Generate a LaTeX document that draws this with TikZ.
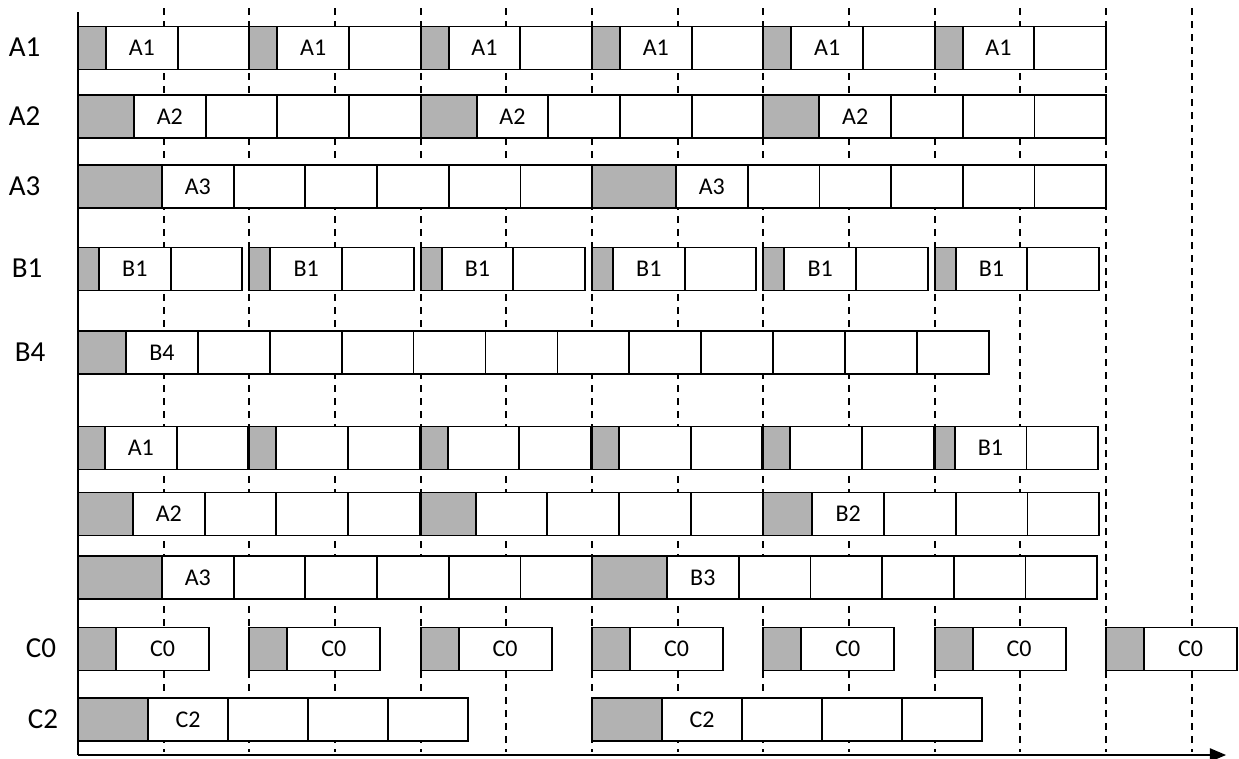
\documentclass[tikz,border=0pt]{standalone}
\usepackage{fontspec}
\setmainfont{Carlito}
\usetikzlibrary{positioning,arrows}
\tikzset{
  hdr/.style={draw=black, fill=black!30, line width=1.7pt, minimum height=43pt,
    inner sep=0pt, outer sep=0pt, anchor=west},
  cell/.style={draw=black, fill=white, line width=1.7pt, minimum height=43pt,
    inner sep=0pt, outer sep=0pt, font=\fontsize{24}{24}\selectfont},
  tick/.style={line width=2pt, dash pattern=on 7pt off 6pt},
  axis/.style={line width=2.8pt},
  tag/.style={font=\fontsize{29}{29}\selectfont}
}
% one frame: name, x, y, gray width, cells, cell width, label of first cell
\newcommand{\grp}[7]{%
  \node[hdr, minimum width=#4] (#1-0) at (#2,#3) {};
  \foreach \k [count=\j from 0] in {1,...,#5}
    \node[cell, minimum width=#6, right=0pt of #1-\j] (#1-\k) {\ifnum\k=1 #7\fi};
}

\begin{document}
\begin{tikzpicture}[x=1pt,y=-1pt]
    \useasboundingbox (0,0) rectangle (1239,758);

    % time grid
    \foreach \k in {1,...,13} {
      \coordinate (d\k) at (78+85.667*\k,8);
      \coordinate (e\k) at (78+85.667*\k,752);
      \draw[tick] (d\k) -- (e\k);
    }

    % axes
    \coordinate (ytop) at (78,12); \coordinate (o) at (78,755);
    \coordinate (xend) at (1226,755);
    \draw[axis] (ytop) -- (o);
    \draw[axis,-triangle 45] (o) -- (xend);

    % row names
    \node[tag] (nA1) at (24.5,47) {A1};
    \node[tag] (nA2) at (24.5,116) {A2};
    \node[tag] (nA3) at (24.5,186) {A3};
    \node[tag] (nB1) at (27,268) {B1};
    \node[tag] (nB4) at (30,352) {B4};
    \node[tag] (nC0) at (41,648) {C0};
    \node[tag] (nC2) at (43,719) {C2};

    % single streams
    \foreach \i in {0,...,5} \grp{a1\i}{78+171.333*\i}{48}{28}{2}{71.67}{A1};
    \foreach \i in {0,...,2} \grp{a2\i}{78+342.667*\i}{116.5}{56}{4}{71.67}{A2};
    \foreach \i in {0,1} \grp{a3\i}{78+514*\i}{186.5}{84}{6}{71.67}{A3};
    \foreach \i in {0,...,5} \grp{b1\i}{78+171.333*\i}{269}{21}{2}{71.67}{B1};
    \grp{b4}{78}{352.5}{48}{12}{71.9}{B4};

    % merged streams
    \grp{m10}{78}{448}{27}{2}{71.67}{A1};
    \foreach \i in {1,...,4} \grp{m1\i}{78+171.333*\i}{448}{27}{2}{71.67}{};
    \grp{m15}{934.67}{448}{20}{2}{71.67}{B1};
    \grp{m20}{78}{514}{55}{4}{71.67}{A2};
    \grp{m21}{420.67}{514}{55}{4}{71.67}{};
    \grp{m22}{763.33}{514}{49}{4}{71.67}{B2};
    \grp{m30}{78}{577.5}{84}{6}{71.67}{A3};
    \grp{m31}{592}{577.5}{75}{6}{71.67}{B3};

    % C streams
    \foreach \i in {0,...,6} \grp{c0\i}{78+171.333*\i}{649}{38}{1}{93}{C0};
    \foreach \i in {0,1} \grp{c2\i}{78+514*\i}{719.5}{70}{4}{80}{C2};
  \end{tikzpicture}
\end{document}
